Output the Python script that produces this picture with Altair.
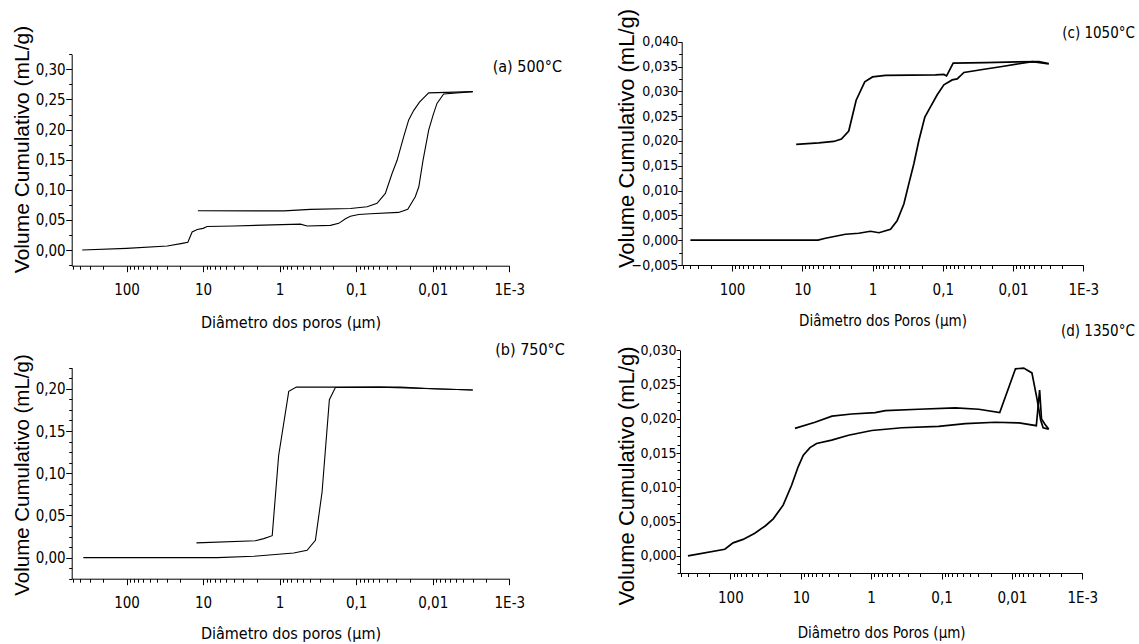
import altair as alt
import pandas as pd

W, H = 1139, 644
NARROW = ("Liberation Sans Narrow, Arial Narrow, Noto Sans Condensed, "
          "DejaVu Sans Condensed, sans-serif")
SANS = "Liberation Sans, Arial, Helvetica, sans-serif"

# ---------------- data (pore diameter in µm, cumulative volume in mL/g) ----------------
# (a) 500 °C
a_intr_d = [379, 100, 29.4, 18.7, 15.8, 13.9, 11.9, 10, 8.85, 4, 0.535, 0.438, 0.217, 0.169,
            0.138, 0.119, 0.0927, 0.0653, 0.0279, 0.0212, 0.0169, 0.0152, 0.0134, 0.0113,
            0.0099, 0.0088, 0.0072, 0.003]
a_intr_v = [0, 0.0028, 0.0066, 0.011, 0.0128, 0.030, 0.034, 0.036, 0.039, 0.040, 0.043, 0.040,
            0.041, 0.0443, 0.052, 0.056, 0.059, 0.0603, 0.0625, 0.0675, 0.0885, 0.105, 0.149,
            0.199, 0.224, 0.2435, 0.259, 0.263]
a_extr_d = [11.7, 0.88, 0.396, 0.119, 0.072, 0.0534, 0.0416, 0.034, 0.0292, 0.024, 0.0206,
            0.0177, 0.0148, 0.0113, 0.003]
a_extr_v = [0.0653, 0.065, 0.0675, 0.069, 0.072, 0.0775, 0.094, 0.127, 0.149, 0.188, 0.216,
            0.232, 0.246, 0.261, 0.263]

# (b) 750 °C
b_intr_d = [367, 6.5, 2.18, 0.655, 0.438, 0.341, 0.279, 0.224, 0.187, 0.05, 0.01, 0.003]
b_intr_v = [0, 0, 0.0016, 0.0055, 0.0087, 0.0205, 0.0777, 0.187, 0.2015, 0.202, 0.200, 0.1985]
b_extr_d = [12.2, 2.07, 1.61, 1.25, 1.03, 0.76, 0.604, 0.0265, 0.01, 0.003]
b_extr_v = [0.0174, 0.020, 0.0225, 0.026, 0.121, 0.197, 0.202, 0.202, 0.200, 0.1985]

# (c) 1050 °C
c_intr_d = [391, 5.96, 4.68, 2.43, 1.57, 1.07, 0.81, 0.554, 0.447, 0.358, 0.304, 0.258, 0.219,
            0.18, 0.149, 0.12, 0.0965, 0.0734, 0.0624, 0.05, 0.0245, 0.0143, 0.0053, 0.0031]
c_intr_v = [0, 0, 0.0004, 0.0012, 0.0014, 0.0018, 0.0015, 0.0022, 0.0039, 0.0073, 0.0114,
            0.0154, 0.0201, 0.0248, 0.0269, 0.0293, 0.0313, 0.0323, 0.0325, 0.0338, 0.0345,
            0.035, 0.036, 0.0355]
c_extr_d = [12.2, 5.82, 3.56, 2.77, 2.18, 1.85, 1.71, 1.29, 1.0, 0.654, 0.127, 0.0964, 0.0883,
            0.0711, 0.0246, 0.0043, 0.0031]
c_extr_v = [0.0193, 0.0196, 0.0199, 0.0204, 0.022, 0.0262, 0.0282, 0.0319, 0.0329, 0.0332,
            0.0333, 0.0334, 0.0331, 0.0357, 0.0358, 0.036, 0.0356]

# (d) 1350 °C
d_intr_d = [401, 120, 91.6, 66, 45, 31.7, 24.6, 17.8, 13.5, 10.9, 9.2, 7.4, 5.96, 3.64, 2.1,
            0.98, 0.366, 0.11, 0.0458, 0.0171, 0.0079, 0.0045, 0.00404, 0.0038, 0.0034, 0.003]
d_intr_v = [0, 0.00097, 0.0019, 0.0024, 0.0033, 0.0044, 0.0054, 0.0074, 0.0103, 0.013, 0.0147,
            0.0158, 0.0164, 0.0169, 0.0176, 0.0183, 0.0187, 0.0189, 0.0193, 0.0195, 0.0194,
            0.019, 0.0242, 0.0200, 0.0192, 0.0185]
d_extr_d = [12.1, 6.28, 3.6, 1.89, 0.877, 0.63, 0.212, 0.0636, 0.0296, 0.0149, 0.0089, 0.0068,
            0.0052, 0.0044, 0.0039, 0.0036, 0.003]
d_extr_v = [0.0186, 0.0195, 0.0204, 0.0207, 0.0209, 0.0212, 0.0214, 0.0216, 0.0214, 0.0209,
            0.0273, 0.0274, 0.0267, 0.0229, 0.0198, 0.0187, 0.0185]

# panel labels; anchor = right end of the label, in data units of each panel
labels = ["(a) 500°C", "(b) 750°C", "(c) 1050°C", "(d) 1350°C"]
label_d = [0.000205, 0.000188, 0.000184, 0.000179]
label_v = [0.3044, 0.246, 0.0418, 0.0328]

x_titles = ["Diâmetro dos poros (µm)", "Diâmetro dos poros (µm)",
            "Diâmetro dos Poros (µm)", "Diâmetro dos Poros (µm)"]
Y_TITLE = "Volume Cumulativo (mL/g)"

X_DOMAIN = [520, 0.001]
X_MAJOR = [100, 10, 1, 0.1, 0.01, 0.001]
X_MINOR = [round(k * 10.0 ** e, 6) for e in range(-3, 3) for k in range(2, 10)
           if k * 10.0 ** e <= 520]
X_LABEL_EXPR = "datum.value < 0.005 ? '1E-3' : replace(toString(datum.value), '.', ',')"


def steps(lo, hi, step):
    n = int(round((hi - lo) / step))
    return [round(lo + i * step, 6) for i in range(n + 1)]


# ---------------- layout / style per panel ----------------
panels = [
    dict(curves=[(a_intr_d, a_intr_v), (a_extr_d, a_extr_v)], xr=[71.7, 509.3], yr=[265.7, 54.3],
         ydom=[-0.026, 0.325], ymaj=steps(0, 0.30, 0.05),
         ymin=[v for v in steps(-0.025, 0.325, 0.025) if round(v / 0.05, 6) % 1 != 0],
         yfmt=".2f", ytick=6, ypad=0.5, ylfs=15, sw=1.1, ytx=-48.7, yty=149, yts=21,
         xty=57, xts=16, lfs=16),
    dict(curves=[(b_intr_d, b_intr_v), (b_extr_d, b_extr_v)], xr=[71.7, 509.3], yr=[578.7, 367.7],
         ydom=[-0.025, 0.225], ymaj=steps(0, 0.20, 0.05),
         ymin=[v for v in steps(-0.025, 0.225, 0.0125) if round(v / 0.05, 6) % 1 != 0],
         yfmt=".2f", ytick=6, ypad=0.5, ylfs=15, sw=1.1, ytx=-48.7, yty=474.5, yts=20.5,
         xty=55, xts=16, lfs=16),
    dict(curves=[(c_intr_d, c_intr_v), (c_extr_d, c_extr_v)], xr=[681.7, 1083.3], yr=[265.0, 41.7],
         ydom=[-0.005, 0.040], ymaj=steps(-0.005, 0.040, 0.005),
         ymin=[v for v in steps(-0.005, 0.040, 0.0025) if round(v / 0.005, 6) % 1 != 0],
         yfmt=".3f", ytick=4, ypad=0, ylfs=14, sw=1.7, ytx=-55, yty=138, yts=22,
         xty=55, xts=15, lfs=15),
    dict(curves=[(d_intr_d, d_intr_v), (d_extr_d, d_extr_v)], xr=[680.0, 1082.3], yr=[573.0, 350.3],
         ydom=[-0.0025, 0.030], ymaj=steps(0, 0.030, 0.005),
         ymin=[v for v in steps(-0.0025, 0.030, 0.00125) if round(v / 0.005, 6) % 1 != 0],
         yfmt=".3f", ytick=4, ypad=0, ylfs=14, sw=1.7, ytx=-54, yty=475.5, yts=22,
         xty=59, xts=15, lfs=15),
]


def make_panel(k, p):
    rows = []
    for ci, (ds, vs) in enumerate(p["curves"]):
        for i, (d, v) in enumerate(zip(ds, vs)):
            rows.append({"d": d, "v": v, "curve": f"c{ci}", "i": i})
    df = pd.DataFrame(rows)
    xs = alt.Scale(type="log", domain=X_DOMAIN, range=p["xr"])
    ys = alt.Scale(domain=p["ydom"], range=p["yr"], zero=False, nice=False)
    xoff = p["yr"][0] - H
    yoff = -p["xr"][0]

    x_major = alt.Axis(orient="bottom", offset=xoff, values=X_MAJOR, labelExpr=X_LABEL_EXPR,
                       tickSize=6, labelPadding=11, labelFlush=False, labelOverlap=False,
                       labelFontSize=15, title=x_titles[k], titleY=p["xty"],
                       titleBaseline="middle", titleFont=NARROW, titleFontSize=p["xts"],
                       grid=False)
    y_major = alt.Axis(orient="left", offset=yoff, values=p["ymaj"],
                       labelExpr=f"replace(format(datum.value, '{p['yfmt']}'), '.', ',')",
                       tickSize=p["ytick"], labelPadding=p["ypad"], labelOverlap=False,
                       labelFontSize=p["ylfs"], title=Y_TITLE, titleX=p["ytx"], titleY=p["yty"],
                       titleBaseline="middle", titleFont=SANS, titleFontSize=p["yts"],
                       grid=False)
    x_minor = alt.Axis(orient="bottom", offset=xoff, values=X_MINOR, labels=False, domain=False,
                       tickSize=3.5, title=None, grid=False)
    y_minor = alt.Axis(orient="left", offset=yoff, values=p["ymin"], labels=False, domain=False,
                       tickSize=3, title=None, grid=False)

    lines = alt.Chart(df).mark_line(color="black", strokeWidth=p["sw"]).encode(
        x=alt.X("d:Q", scale=xs, axis=x_major),
        y=alt.Y("v:Q", scale=ys, axis=y_major),
        detail="curve:N",
        order="i:Q",
    )
    lab = pd.DataFrame({"d": [label_d[k]], "v": [label_v[k]], "t": [labels[k]]})
    text = alt.Chart(lab).mark_text(align="right", baseline="middle", font=NARROW,
                                    fontSize=p["lfs"], color="black").encode(
        x=alt.X("d:Q", scale=xs, axis=x_minor),
        y=alt.Y("v:Q", scale=ys, axis=y_minor),
        text="t:N",
    )
    return alt.layer(lines, text).resolve_axis(x="independent", y="independent")


chart = alt.layer(*[make_panel(k, p) for k, p in enumerate(panels)]).resolve_scale(
    x="independent", y="independent"
).properties(
    width=W, height=H, autosize=alt.AutoSizeParams(type="none"), padding=0,
    background="white",
).configure_view(stroke=None).configure_axis(
    labelFont=NARROW, labelColor="black", tickColor="black", domainColor="black",
    tickWidth=1, domainWidth=1, titleColor="black", titleFontWeight="normal", grid=False,
)

chart.save("out.html", embed_options={"renderer": "svg", "actions": False})
